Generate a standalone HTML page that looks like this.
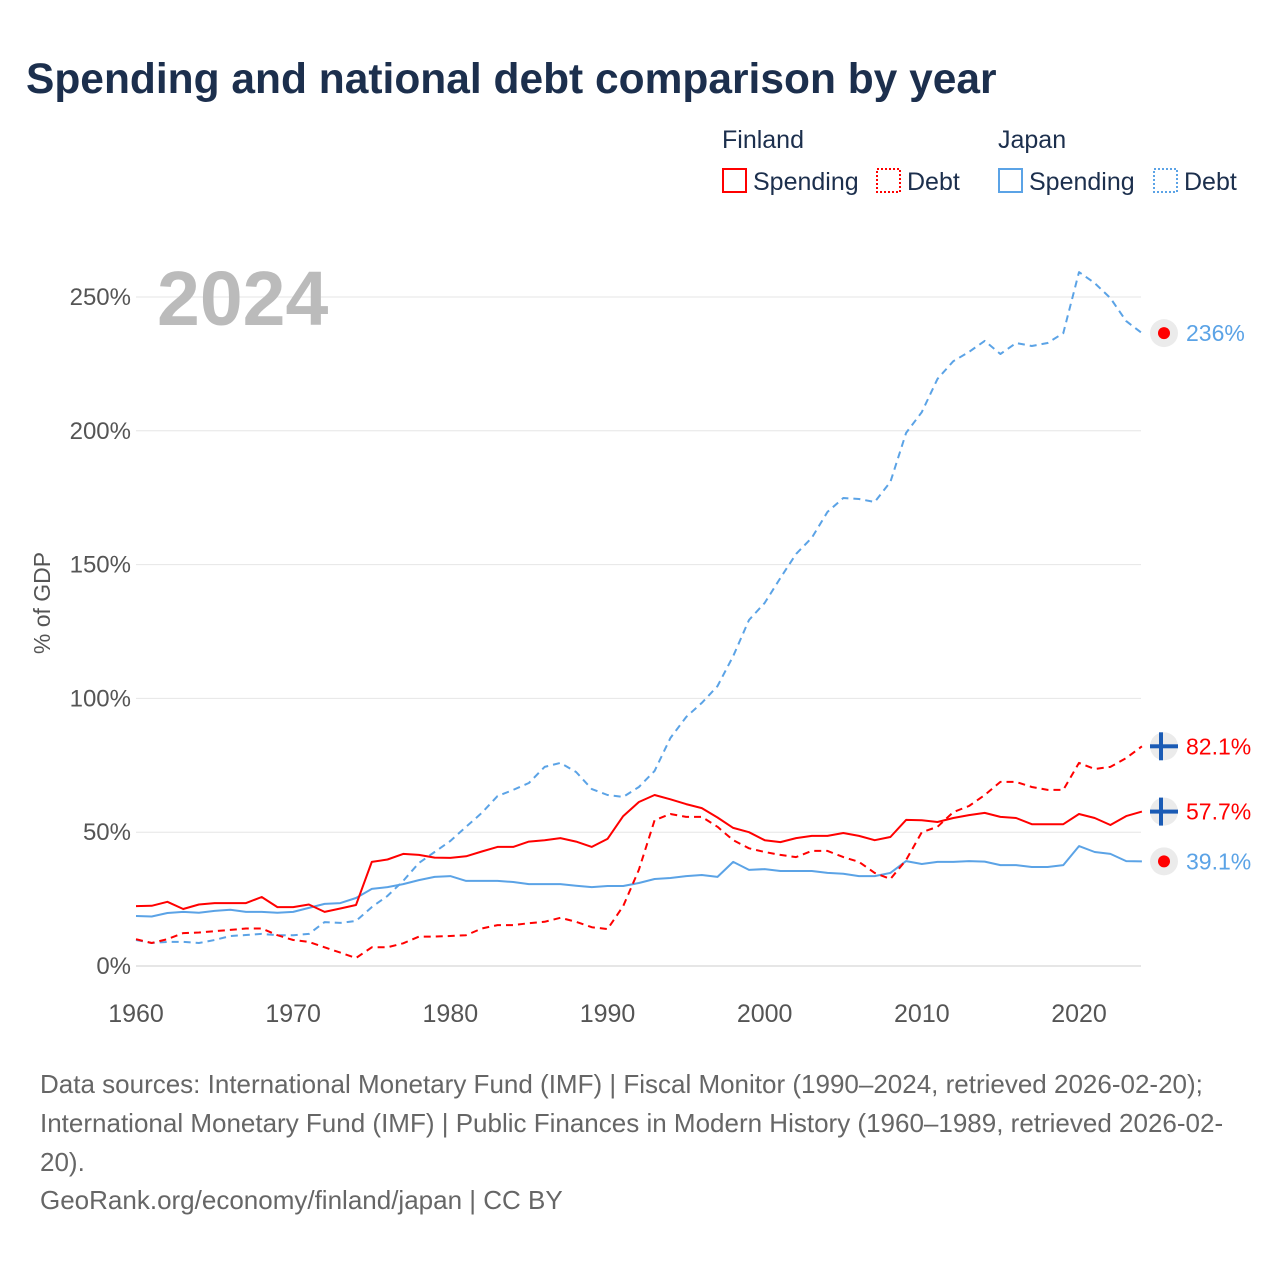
<!DOCTYPE html>
<html><head><meta charset="utf-8"><style>
body{margin:0;background:#fff;}
svg{display:block;font-family:"Liberation Sans",sans-serif;}
</style></head><body>
<svg id="chart" width="1280" height="1280" viewBox="0 0 1280 1280" xmlns="http://www.w3.org/2000/svg">
<text x="26" y="93" font-size="42.5" font-weight="bold" fill="#1c2f4d">Spending and national debt comparison by year</text>
<g font-size="25" fill="#1c2f4d">
<text x="722" y="148">Finland</text>
<rect x="723" y="169" width="23" height="23" fill="none" stroke="#f00" stroke-width="2"/>
<text x="753" y="190">Spending</text>
<rect x="877" y="169" width="23" height="23" fill="none" stroke="#f00" stroke-width="2" stroke-dasharray="2,2"/>
<text x="907" y="190">Debt</text>
<text x="998" y="148">Japan</text>
<rect x="999" y="169" width="23" height="23" fill="none" stroke="#5ba3e6" stroke-width="2"/>
<text x="1029" y="190">Spending</text>
<rect x="1154" y="169" width="23" height="23" fill="none" stroke="#5ba3e6" stroke-width="2" stroke-dasharray="2,2"/>
<text x="1184" y="190">Debt</text>
</g>
<g id="grid"></g>
<text x="157" y="325" font-size="77" font-weight="bold" fill="#bbbbbb">2024</text>
<text transform="translate(50,603) rotate(-90)" text-anchor="middle" font-size="23" fill="#555">% of GDP</text>
<g id="series"></g>
<g id="markers"></g>
<g font-size="26" fill="#666">
<text x="40" y="1093">Data sources: International Monetary Fund (IMF) | Fiscal Monitor (1990–2024, retrieved 2026-02-20);</text>
<text x="40" y="1132">International Monetary Fund (IMF) | Public Finances in Modern History (1960–1989, retrieved 2026-02-</text>
<text x="40" y="1171">20).</text>
<text x="40" y="1209">GeoRank.org/economy/finland/japan | CC BY</text>
</g>
</svg>
<script>
const years = [];
for (let y = 1960; y <= 2024; y++) years.push(y);
const finSpending = [22.4,22.5,24,21.3,23,23.5,23.5,23.5,25.8,22,22,23,20.2,21.5,22.8,38.9,39.8,41.9,41.5,40.5,40.4,41,42.8,44.5,44.5,46.5,47,47.8,46.5,44.5,47.5,56,61.3,63.9,62.3,60.5,59,55.5,51.6,50,47,46.3,47.8,48.6,48.6,49.7,48.6,47,48.2,54.6,54.5,53.8,55.3,56.4,57.2,55.7,55.3,53,53,53,56.8,55.3,52.7,56,57.7];
const finDebt = [10,8.6,10,12.3,12.5,13,13.5,14,14,11.5,9.7,9,7,5,3,7,7,8.5,11,11,11.2,11.5,14,15.3,15.3,16,16.5,18,16.5,14.5,13.8,22.4,36,54.5,56.8,55.7,55.7,52,47,44,42.6,41.5,40.7,43,43,40.7,38.9,34.8,32.5,39.6,50,52,57.5,59.8,63.9,68.8,68.8,66.9,65.8,65.8,75.9,73.6,74.4,77.7,82.1];
const jpnSpending = [18.7,18.5,19.8,20.2,19.9,20.6,21,20.2,20.2,19.9,20.2,21.7,23.2,23.5,25.4,28.8,29.5,30.6,32.1,33.3,33.6,31.8,31.8,31.8,31.4,30.6,30.6,30.6,30,29.5,29.9,29.9,31,32.5,32.9,33.6,34,33.3,38.9,35.9,36.2,35.5,35.5,35.5,34.8,34.5,33.6,33.6,34.8,39.2,38.1,38.9,38.9,39.2,39,37.7,37.7,37,37,37.7,44.8,42.6,41.9,39.2,39.1];
const jpnDebt = [9.7,8.6,9,9,8.6,9.7,11.2,11.6,12,11.5,11.5,12,16.4,16.1,16.8,22,26.2,31.8,38.5,42.6,46.7,52,57.2,63.5,65.8,68.4,74.4,75.9,72.5,66.1,63.9,63.2,66.9,72.9,85.2,93,98.3,104.6,115.8,129.3,135.7,145,154,160,169.7,174.9,174.5,173.4,180.9,199.2,207,219.4,226,229.5,233.6,228.7,232.8,231.7,232.8,236.5,259.3,255.2,249.6,241,236.5];
const yTicks = [0,50,100,150,200,250];
const xTicks = [1960,1970,1980,1990,2000,2010,2020];
const lastLabels = ["82.1%","57.7%","39.1%","236%"];

const NS = "http://www.w3.org/2000/svg";
const xs = y => 136 + (y - 1960) * (1079 - 136) / 60;
const ys = v => 966 - v * (966 - 297) / 250;
function mk(tag, attrs, parent){const e=document.createElementNS(NS,tag);for(const k in attrs)e.setAttribute(k,attrs[k]);parent.appendChild(e);return e;}
const grid = document.getElementById('grid');
yTicks.forEach(t=>{
  const l = mk('line',{x1:136,x2:1141,y1:ys(t),y2:ys(t),stroke:t===0?'#ccc':'#e6e6e6','stroke-width':1},grid);
  
  
  const tx = mk('text',{x:131,y:ys(t)+8,'text-anchor':'end','font-size':24,fill:'#555'},grid);
  tx.textContent = t+'%';
  
  
});
xTicks.forEach(t=>{
  const tx = mk('text',{x:xs(t),y:1022,'text-anchor':'middle','font-size':25,fill:'#555'},grid);
  tx.textContent = t;
  
  
});
const series = document.getElementById('series');
function line(data,color,dash,name){
  const d = data.map((v,i)=>(i?'L':'M')+xs(years[i]).toFixed(1)+','+ys(v).toFixed(1)).join('');
  const p = mk('path',{d:d,fill:'none',stroke:color,'stroke-width':2,'stroke-linejoin':'round'},series);
  if(dash)p.setAttribute('stroke-dasharray','7,5');
  
  
}
line(jpnSpending,'#5ba3e6',false,'japan-spending-line');
line(jpnDebt,'#5ba3e6',true,'japan-debt-line');
line(finSpending,'#f00',false,'finland-spending-line');
line(finDebt,'#f00',true,'finland-debt-line');

const markers = document.getElementById('markers');
const n = years.length-1;
const ends = [[finDebt[n],'fin','#f00',lastLabels[0]],[finSpending[n],'fin','#f00',lastLabels[1]],[jpnSpending[n],'jpn','#5ba3e6',lastLabels[2]],[jpnDebt[n],'jpn','#5ba3e6',lastLabels[3]]];
ends.forEach((e,i)=>{
  const cy = ys(e[0]), cx = 1164;
  const g = mk('g',{},markers);
  
  
  mk('circle',{cx:cx,cy:cy,r:14,fill:'#ebebeb'},g);
  if(e[1]==='fin'){
    mk('rect',{x:cx-14,y:cy-2,width:28,height:4,fill:'#1a5bb5'},g);
    mk('rect',{x:cx-5,y:cy-14,width:4,height:28,fill:'#1a5bb5'},g);
  } else {
    mk('circle',{cx:cx,cy:cy,r:6,fill:'#f00'},g);
  }
  const t = mk('text',{x:1186,y:cy+8,'font-size':23,fill:e[2]},g);
  t.textContent = e[3];
  
  
});
</script>
</body></html>
